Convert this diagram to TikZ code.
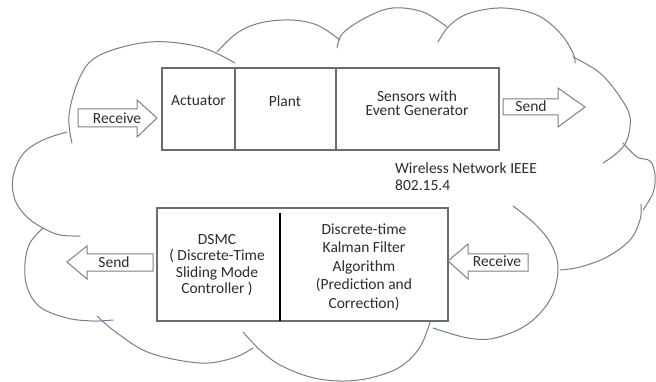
\documentclass[tikz,border=0pt]{standalone}
\usepackage{fontspec}
\setmainfont{Carlito}
\begin{document}
\begin{tikzpicture}[x=1pt,y=-1pt,
  cloudline/.style={draw=cloudgray, line width=1pt, line cap=round},
  boxline/.style={draw=boxgray, line width=1.1pt},
  arrowbox/.style={draw=arrowgray, line width=1pt, fill=white, line join=miter},
  lbl/.style={text=txt, inner sep=0pt, font=\fontsize{15.5}{14}\selectfont},
]
\definecolor{cloudgray}{RGB}{118,126,142}
\definecolor{boxgray}{RGB}{105,108,115}
\definecolor{arrowgray}{RGB}{125,128,135}
\definecolor{txt}{RGB}{45,45,45}

% canvas
\fill[white] (0,0) rectangle (656,382);
\useasboundingbox (0,0) rectangle (656,382);

% ---- cloud outline, lobe by lobe ----
\draw[cloudline] plot[smooth, tension=0.6] coordinates
  {(72,143) (69,115) (80,77) (100,55) (150,42) (200,47) (235,63)};
\draw[cloudline] plot[smooth, tension=0.6] coordinates
  {(217,52) (237,33) (260,23) (290,20) (317,25) (340,40)};
\draw[cloudline] plot[smooth, tension=0.6] coordinates
  {(337,48) (343,33) (367,17) (393,8) (423,12) (447,27)};
\draw[cloudline] plot[smooth, tension=0.6] coordinates
  {(438,42) (450,25) (470,13) (503,8) (537,15) (560,33) (573,53) (575,63)};
\draw[cloudline] plot[smooth, tension=0.6] coordinates
  {(573,57) (600,73) (620,97) (630,117) (627,140) (617,153) (603,163)};
\draw[cloudline] plot[smooth, tension=0.6] coordinates
  {(623,143) (637,157) (650,161) (655,175) (653,193) (643,210)};
\draw[cloudline] plot[smooth, tension=0.6] coordinates
  {(641,204) (640,220) (630,240) (607,257) (580,267) (560,270)};
\draw[cloudline] plot[smooth, tension=0.6] coordinates
  {(513,206) (535,224) (551,244) (558,268) (551,298) (528,324) (495,338) (468,338) (433,328)};
\draw[cloudline] plot[smooth, tension=0.6] coordinates
  {(430,322) (420,347) (400,367) (370,378) (340,381) (310,377) (280,365) (260,350) (243,332)};
\draw[cloudline] plot[smooth, tension=0.6] coordinates
  {(253,348) (233,358) (200,363) (150,353) (117,333) (97,316)};
\draw[cloudline] plot[smooth, tension=0.6] coordinates
  {(43,228) (30,243) (25,263) (27,287) (40,307) (67,318) (93,321) (113,320)};
\draw[cloudline] plot[smooth, tension=0.6] coordinates
  {(67,132) (43,140) (23,154) (13,177) (15,200) (27,217) (43,228) (60,235) (80,236)};

% ---- upper block: actuator / plant / sensors ----
\coordinate (tl) at (162,68);
\coordinate (br) at (499,150);
\draw[boxline] (tl) rectangle (br);
\draw[boxline] (235,68) -- (235,150);
\draw[boxline] (336,68) -- (336,150);
\node[lbl] (act) at (198.5,101) {Actuator};
\node[lbl] (plant) at (285,101) {Plant};
\node[lbl, align=center] (sens) at (417,103) {Sensors with\\Event Generator};

% ---- lower block: controller / estimator ----
\draw[boxline] (157,208) rectangle (448,321);
\draw[black, line width=2.2pt] (280,213) -- (280,321);
\node[lbl, align=center, font=\fontsize{15.5}{16.2}\selectfont] (dsmc) at (217,265)
  {DSMC\\( Discrete-Time\\Sliding Mode\\Controller )};
\node[lbl, align=center, font=\fontsize{15.5}{18.6}\selectfont] (kal) at (364,267)
  {Discrete-time\\Kalman Filter\\Algorithm\\(Prediction and\\Correction)};

% ---- network label ----
\node[lbl, align=left, anchor=west, font=\fontsize{15.5}{17}\selectfont] (net) at (395,177)
  {Wireless Network IEEE\\802.15.4};

% ---- block arrows ----
% top-left: Receive (pointing right)
\draw[arrowbox] (78,109) -- (137,109) -- (137,100) -- (157,118) -- (137,137)
  -- (137,127) -- (78,127) -- cycle;
\node[lbl] (rcv1) at (117,118) {Receive};
% top-right: Send (pointing right)
\draw[arrowbox] (503,99) -- (558,99) -- (558,88) -- (585,107) -- (558,127)
  -- (558,115) -- (503,115) -- cycle;
\node[lbl] (snd1) at (531,106) {Send};
% bottom-left: Send (pointing left)
\draw[arrowbox] (153,254) -- (87,254) -- (87,246) -- (67,262) -- (87,279)
  -- (87,271) -- (153,271) -- cycle;
\node[lbl] (snd2) at (114,262) {Send};
% bottom-right: Receive (pointing left)
\draw[arrowbox] (528,254) -- (468,254) -- (468,244) -- (448,261) -- (468,279)
  -- (468,271) -- (528,271) -- cycle;
\node[lbl] (rcv2) at (497,261) {Receive};
\end{tikzpicture}
\end{document}
